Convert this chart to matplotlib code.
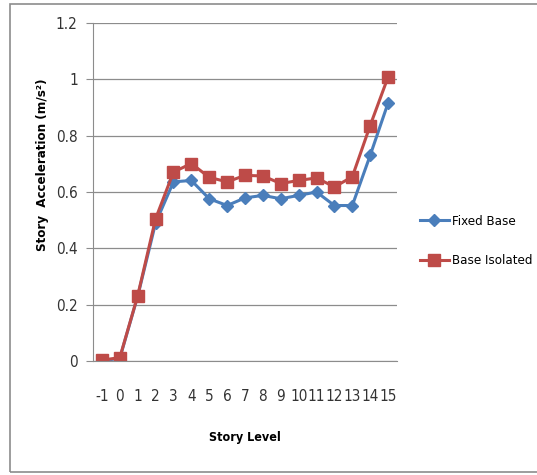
import matplotlib
matplotlib.use("Agg")
from matplotlib import pyplot as plt
from matplotlib.patches import Rectangle
from matplotlib.lines import Line2D

plt.rcParams['font.family'] = ['DejaVu Sans']
plt.rcParams['font.stretch'] = 'condensed'

# story levels and accelerations (m/s^2)
levels = ["-1", "0", "1", "2", "3", "4", "5", "6", "7", "8", "9", "10", "11", "12", "13", "14", "15"]
fixed_base = [0.0, 0.01, 0.23, 0.49, 0.636, 0.641, 0.576, 0.552, 0.579, 0.588, 0.576, 0.588, 0.60, 0.552, 0.552, 0.73, 0.916]
base_isolated = [0.003, 0.012, 0.232, 0.505, 0.671, 0.701, 0.652, 0.636, 0.659, 0.657, 0.630, 0.641, 0.650, 0.618, 0.654, 0.836, 1.008]

blue = '#4a7ebb'
red = '#be4b48'

fig = plt.figure(figsize=(5.37, 4.75), dpi=100)
fig.patches.append(Rectangle((10/537, 3/475), 530/537, 468/475, transform=fig.transFigure,
                             fill=False, edgecolor='#8c8c8c', linewidth=1.2))

ax = fig.add_axes([93/537, 1-361/475, 304/537, 338/475])
x = list(range(len(levels)))
ax.plot(x, fixed_base, color=blue, marker='D', markersize=6.5, linewidth=2.2, label='Fixed Base')
ax.plot(x, base_isolated, color=red, marker='s', markersize=8, linewidth=2.2, label='Base Isolated')

ax.set_xlim(-0.5, len(levels)-0.5)
ax.set_ylim(0, 1.2)
ax.set_yticks([0, 0.2, 0.4, 0.6, 0.8, 1.0, 1.2])
ax.set_yticklabels(['0', '0.2', '0.4', '0.6', '0.8', '1', '1.2'])
ax.set_xticks(x)
ax.set_xticklabels(levels)
ax.grid(axis='y', color='#8c8c8c', linewidth=0.9)
ax.set_axisbelow(True)
for s in ['top', 'right']:
    ax.spines[s].set_visible(False)
ax.spines['left'].set_color('#8c8c8c')
ax.spines['bottom'].set_color('#8c8c8c')
ax.tick_params(axis='x', length=0, pad=20, labelsize=11, colors='#333333')
ax.tick_params(axis='y', length=5, color='#8c8c8c', pad=6, labelsize=11, colors='#333333')

ax.set_xlabel('Story Level', fontsize=9, fontweight='bold')
ax.xaxis.set_label_coords(0.5, -(438-361)/338)
ax.set_ylabel('Story  Acceleration (m/s²)', fontsize=9.5, fontweight='bold')
ax.yaxis.set_label_coords(-(93-42)/304, 0.58)
ax.xaxis.label.set_va('center')
ax.yaxis.label.set_va('center')

handles = [Line2D([], [], color=blue, marker='D', markersize=6.5, linewidth=2.2),
           Line2D([], [], color=red, marker='s', markersize=8, linewidth=2.2)]
fig.legend(handles, ['Fixed Base', 'Base Isolated'], loc='upper left',
           bbox_to_anchor=(408/537, 1-203/475), frameon=False, fontsize=9.5,
           labelspacing=2.0, handlelength=2.2, handletextpad=0.2)

fig.savefig('out.png', dpi=100)
